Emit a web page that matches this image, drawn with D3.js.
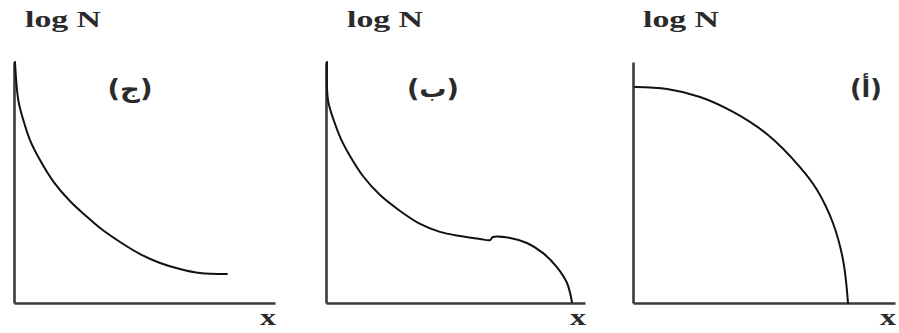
<!DOCTYPE html>
<html>
<head>
<meta charset="utf-8">
<script src="https://cdn.jsdelivr.net/npm/d3@7"></script>
<style>
  html, body { margin: 0; padding: 0; background: #fff; }
  svg { display: block; }
  text { font-family: "Liberation Serif", "Times New Roman", "DejaVu Serif", serif; font-weight: bold; fill: #2b2b2b; }
  .tag { font-family: "DejaVu Sans", "Liberation Serif", serif; }
</style>
</head>
<body>
<svg id="chart" width="899" height="333"></svg>
<script>
// Panel labels, left to right
const panelLabels = ["(ج)", "(ب)", "(أ)"];
const yLabel = "log N";
const xLabel = "x";

// Curve samples per panel: [x, log N] on a 0–100 scale
const curveJ = [
  [0.38, 100], [1.65, 84.2], [3.58, 75.9], [6.15, 67.6], [10.0, 59.3],
  [15.0, 50.6], [21.5, 42.3], [27.3, 36.5], [33.1, 31.1], [40.8, 25.3],
  [48.5, 20.3], [56.2, 16.6], [63.8, 14.1], [71.5, 12.4], [81.9, 12.0]
];
const curveB = [
  [0.38, 100], [0.77, 84.2], [3.08, 75.5], [5.77, 68.0], [9.23, 61.0],
  [14.2, 52.7], [20.8, 44.8], [28.5, 38.2], [36.2, 32.8], [43.8, 29.5],
  [51.5, 27.8], [59.2, 26.6], [63.1, 26.1], [64.2, 27.4], [70.8, 27.0],
  [77.3, 24.9], [83.5, 20.7], [88.8, 14.9], [92.7, 8.3], [94.6, 0.4]
];
const curveA = [
  [0.8, 89.6], [13.1, 88.8], [25.8, 85.5], [38.5, 79.3], [51.5, 70.1],
  [64.2, 56.4], [70.8, 46.9], [76.9, 33.2], [80.8, 17.8], [82.7, 0.0]
];

const panels = [
  { label: panelLabels[0], data: curveJ, left: 14,  axisLen: 261, tagX: 130, tagW: 45, logX: 25 },
  { label: panelLabels[1], data: curveB, left: 326, axisLen: 259, tagX: 433, tagW: 52, logX: 347 },
  { label: panelLabels[2], data: curveA, left: 633, axisLen: 262, tagX: 866, tagW: 32, logX: 643 }
];

const plotTop = 62, plotBottom = 303;
const svg = d3.select("#chart");

panels.forEach(p => {
  const x = d3.scaleLinear().domain([0, 100]).range([0, 260]);
  const xAxisScale = d3.scaleLinear().domain([0, 100]).range([0, p.axisLen]);
  const y = d3.scaleLinear().domain([0, 100]).range([plotBottom - plotTop, 0]);

  const g = svg.append("g").attr("transform", `translate(${p.left},${plotTop})`);

  // Axes: plain L-shaped frame, no ticks
  const xAxis = g.append("g")
    .attr("transform", `translate(0,${plotBottom - plotTop})`)
    .call(d3.axisBottom(xAxisScale).ticks(0).tickSizeOuter(0));
  const yAxis = g.append("g")
    .call(d3.axisLeft(y).ticks(0).tickSizeOuter(0));
  [xAxis, yAxis].forEach(a => a.select(".domain")
    .attr("stroke", "#3a3a3a").attr("stroke-width", 2.6));

  // Curve
  g.append("path")
    .datum(p.data)
    .attr("fill", "none")
    .attr("stroke", "#111")
    .attr("stroke-width", 2)
    .attr("stroke-linecap", "round")
    .attr("stroke-linejoin", "round")
    .attr("d", d3.line()
      .x(d => x(d[0]))
      .y(d => y(d[1]))
      .curve(d3.curveCatmullRom.alpha(0.5)));

  // Axis titles
  svg.append("text")
    .attr("x", p.logX).attr("y", 27)
    .attr("font-size", 23)
    .attr("textLength", 76).attr("lengthAdjust", "spacingAndGlyphs")
    .text(yLabel);

  svg.append("text")
    .attr("x", p.left + p.axisLen - 15).attr("y", 325)
    .attr("font-size", 23)
    .attr("textLength", 16).attr("lengthAdjust", "spacingAndGlyphs")
    .text(xLabel);

  // Panel tag
  svg.append("text")
    .attr("class", "tag")
    .attr("x", p.tagX - p.tagW / 2).attr("y", 97)
    .attr("font-size", 24)
    .attr("textLength", p.tagW).attr("lengthAdjust", "spacingAndGlyphs")
    .text(p.label);
});
</script>
</body>
</html>
